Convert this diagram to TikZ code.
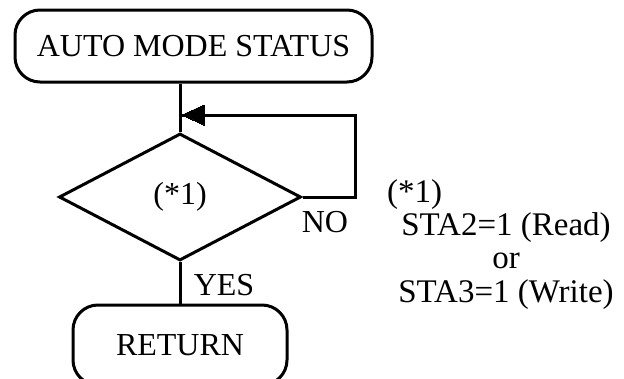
\documentclass[tikz,border=0pt]{standalone}
\usepackage{fontspec}
\setmainfont{Liberation Serif}
\usetikzlibrary{shapes.geometric,arrows.meta}

\tikzset{
  terminal/.style={draw, rounded corners=25pt, inner sep=0pt, line width=3pt},
  decision/.style={draw, diamond, aspect=1.9, inner sep=0pt, line width=3pt},
  flowline/.style={line width=3pt},
  lbl/.style={inner sep=0pt, font=\fontsize{32}{33.5}\selectfont},
  notelbl/.style={inner sep=0pt, font=\fontsize{33}{33.5}\selectfont}
}

\begin{document}
\begin{tikzpicture}[x=1pt,y=1pt,yscale=-1,xscale=1]
        \useasboundingbox (0,0) rectangle (624,378);

        % Start terminal
        \node [terminal, lbl, minimum width=357pt, minimum height=72pt] (start) at (193.5,46) {AUTO MODE STATUS};
        % Decision
        \node [decision, lbl, minimum width=242pt, minimum height=127pt] (check) at (180,197) {(*1)};
        % Return terminal (runs off the bottom edge)
        \node [terminal, lbl, minimum width=214pt, minimum height=80pt] (ret) at (180,345) {RETURN};

        % join point of the loop
        \coordinate (join) at (180,115);
        \coordinate (loopr) at (355,115);

        % Connectors
        \draw [flowline] (start.south -| check.north) -- (check.north);
        \draw [flowline] (check.east) -| (loopr) -- (join) ;
        \draw [line width=0pt, fill] (join) ++(2,0) -- ++(22,-10) -- ++(0,20) -- cycle;
        \draw [flowline] (check.south) -- (ret.north);

        % Text Nodes
        \node [lbl] (no) at (325,222) {NO};
        \node [lbl] (yes) at (224,285) {YES};
        \node [notelbl, anchor=base west] (notemark) at (387,202) {(*1)};
        \node [notelbl, anchor=base, align=center] (notetext) at (506,302) {STA2=1 (Read)\\or\\STA3=1 (Write)};
\end{tikzpicture}
\end{document}
